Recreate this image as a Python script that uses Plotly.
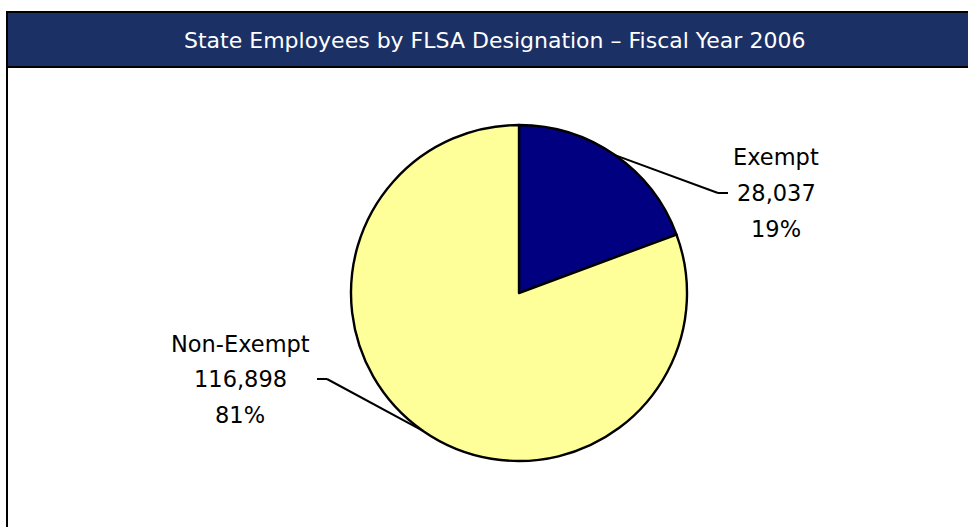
import math
import plotly.graph_objects as go

# ---- data ----
categories = ["Exempt", "Non-Exempt"]
employees = [28037, 116898]
percent_labels = ["19%", "81%"]
slice_colors = ["#000080", "#FFFF99"]
title_text = "State Employees by FLSA Designation \u2013 Fiscal Year 2006"

# ---- layout constants (pixels) ----
W, H = 968, 527
CX, CY, R = 519, 293, 168
FONT = "DejaVu Sans"

def px(x):
    return x / W

def py(y):
    return 1 - y / H

fig = go.Figure()
fig.add_trace(go.Pie(
    labels=categories,
    values=employees,
    sort=False,
    direction="clockwise",
    rotation=0,
    textinfo="none",
    hoverinfo="label+value+percent",
    marker=dict(colors=slice_colors, line=dict(color="black", width=2.4)),
    domain=dict(x=[px(CX - R), px(CX + R)], y=[py(CY + R), py(CY - R)]),
    showlegend=False,
))

shapes = []
annotations = []

# title bar
shapes.append(dict(type="rect", xref="paper", yref="paper",
                   x0=px(7), x1=px(980), y0=py(67), y1=py(12),
                   fillcolor="#1B3065", line=dict(color="black", width=2), layer="below"))
# left frame line
shapes.append(dict(type="line", xref="paper", yref="paper",
                   x0=px(7), x1=px(7), y0=py(67), y1=py(540),
                   line=dict(color="black", width=2)))

annotations.append(dict(text=title_text, x=px(494), y=py(40), xref="paper", yref="paper",
                        xanchor="center", yanchor="middle", showarrow=False,
                        font=dict(family=FONT, size=22, color="white")))

# label placement (label center x, middle line y, elbow x, tick end x)
label_pos = {
    "Exempt": dict(cx=776, y_mid=193, elbow=718, tick=728),
    "Non-Exempt": dict(cx=240, y_mid=379, elbow=327, tick=317),
}
LINE_GAP = 35.5

total = sum(employees)
cum = 0
for name, val, pct in zip(categories, employees, percent_labels):
    mid = (cum + val / 2) / total * 2 * math.pi
    cum += val
    ex = CX + R * math.sin(mid)
    ey = CY - R * math.cos(mid)
    lp = label_pos[name]
    shapes.append(dict(type="line", xref="paper", yref="paper",
                       x0=px(ex), y0=py(ey), x1=px(lp["elbow"]), y1=py(lp["y_mid"]),
                       line=dict(color="black", width=2)))
    shapes.append(dict(type="line", xref="paper", yref="paper",
                       x0=px(lp["elbow"]), y0=py(lp["y_mid"]), x1=px(lp["tick"]), y1=py(lp["y_mid"]),
                       line=dict(color="black", width=2)))
    lines = [name, f"{val:,}", pct]
    for i, t in enumerate(lines):
        annotations.append(dict(text=t, x=px(lp["cx"]), y=py(lp["y_mid"] + (i - 1) * LINE_GAP),
                                xref="paper", yref="paper", xanchor="center", yanchor="middle",
                                showarrow=False, font=dict(family=FONT, size=22.5, color="black")))

fig.update_layout(
    width=W, height=H,
    margin=dict(l=0, r=0, t=0, b=0),
    paper_bgcolor="white", plot_bgcolor="white",
    shapes=shapes, annotations=annotations,
)

fig.write_html("out.html", config={"displayModeBar": False},
               post_script="document.body.style.margin='0px';")
